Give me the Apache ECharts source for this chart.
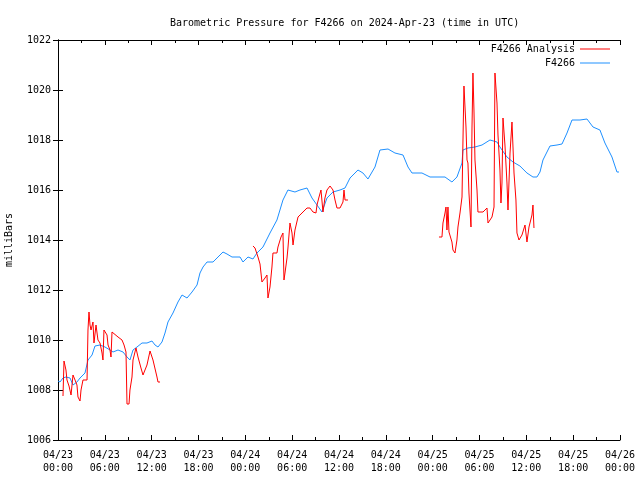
<!DOCTYPE html>
<html>
<head>
<meta charset="utf-8">
<script src="https://cdn.jsdelivr.net/npm/echarts@6/dist/echarts.min.js"></script>
<style>html,body{margin:0;padding:0;background:#fff}#c{width:640px;height:480px}</style>
</head>
<body>
<div id="c"></div>
<script>
// X ticks (hours since 2024-04-23 00:00 UTC)
var tickLabels = ['04/23\n00:00','04/23\n06:00','04/23\n12:00','04/23\n18:00','04/24\n00:00','04/24\n06:00','04/24\n12:00','04/24\n18:00','04/25\n00:00','04/25\n06:00','04/25\n12:00','04/25\n18:00','04/26\n00:00'];

// F4266 observed
var obsHours = [0.00,0.26,0.64,1.02,1.54,1.92,2.43,2.82,3.46,3.84,4.36,4.74,5.38,6.02,6.66,7.05,7.69,8.33,8.84,9.22,9.61,10.12,10.76,11.40,12.04,12.43,12.81,13.32,13.71,14.09,14.73,15.37,15.89,16.53,17.17,17.81,18.19,18.58,19.09,19.86,20.50,21.14,21.65,21.78,22.29,23.32,23.70,24.34,24.98,25.49,26.26,27.16,28.05,28.82,29.46,30.36,31.00,31.90,32.54,33.18,33.82,34.46,35.23,36.13,36.77,37.41,38.05,38.43,39.07,39.71,40.61,41.25,42.28,43.17,44.20,44.84,45.35,46.63,47.66,48.68,49.58,50.47,51.11,51.76,51.88,52.52,53.42,54.32,55.34,56.24,56.62,57.52,58.29,59.18,60.08,60.85,61.36,61.75,62.13,63.03,63.93,64.57,65.21,65.85,66.87,67.77,68.54,69.43,70.07,70.97,71.61,71.87];
var obsValues = [1008.36,1008.32,1008.48,1008.52,1008.48,1008.20,1008.32,1008.48,1008.68,1009.20,1009.40,1009.76,1009.80,1009.72,1009.60,1009.52,1009.60,1009.52,1009.32,1009.20,1009.60,1009.72,1009.88,1009.88,1009.96,1009.80,1009.72,1009.92,1010.28,1010.72,1011.08,1011.52,1011.80,1011.68,1011.92,1012.20,1012.68,1012.92,1013.12,1013.12,1013.32,1013.52,1013.44,1013.52,1013.32,1013.32,1013.12,1013.32,1013.24,1013.48,1013.72,1014.28,1014.80,1015.60,1016.00,1015.92,1016.00,1016.08,1015.68,1015.40,1015.12,1015.68,1015.92,1016.00,1016.08,1016.48,1016.68,1016.80,1016.68,1016.44,1016.92,1017.60,1017.64,1017.48,1017.40,1016.92,1016.68,1016.68,1016.52,1016.52,1016.52,1016.32,1016.52,1017.08,1017.60,1017.68,1017.72,1017.80,1018.00,1017.92,1017.72,1017.32,1017.12,1016.96,1016.68,1016.52,1016.52,1016.72,1017.20,1017.76,1017.80,1017.84,1018.28,1018.80,1018.80,1018.84,1018.52,1018.40,1017.88,1017.32,1016.72,1016.72];

// F4266 Analysis, three runs separated by gaps
var anaHours1 = [0.64,0.77,1.02,1.15,1.41,1.67,1.79,1.92,2.18,2.43,2.56,2.82,2.95,3.20,3.72,3.84,3.97,4.10,4.23,4.48,4.61,4.87,5.12,5.38,5.64,5.76,5.89,6.28,6.41,6.66,6.79,6.92,7.05,7.69,8.20,8.46,8.71,8.84,9.10,9.22,9.48,9.61,9.99,10.25,10.63,10.89,11.40,11.79,12.17,12.68,12.81,13.07];
var anaValues1 = [1007.76,1009.16,1008.80,1008.40,1008.16,1007.80,1007.88,1008.60,1008.40,1008.20,1007.72,1007.56,1008.00,1008.40,1008.40,1010.40,1011.12,1010.60,1010.40,1010.72,1009.88,1010.60,1010.00,1009.88,1009.48,1009.20,1010.40,1010.20,1009.80,1009.60,1009.32,1010.32,1010.32,1010.12,1010.00,1009.80,1009.52,1007.44,1007.44,1008.00,1008.52,1009.20,1009.68,1009.32,1008.88,1008.60,1009.00,1009.56,1009.20,1008.52,1008.32,1008.32];
var anaHours2 = [24.98,25.24,25.62,25.88,26.13,26.52,26.77,26.90,27.16,27.41,27.54,28.05,28.18,28.57,28.82,28.95,29.08,29.34,29.46,29.72,29.98,30.11,30.36,30.75,31.26,31.90,32.28,32.67,33.05,33.18,33.44,33.69,33.95,34.20,34.46,34.85,35.23,35.49,35.74,36.13,36.51,36.64,36.77,37.15];
var anaValues2 = [1013.76,1013.68,1013.32,1013.04,1012.32,1012.48,1012.60,1011.68,1012.12,1012.92,1013.48,1013.48,1013.72,1014.12,1014.28,1012.40,1012.68,1013.28,1013.68,1014.68,1014.28,1013.80,1014.40,1014.92,1015.08,1015.28,1015.28,1015.12,1015.08,1015.40,1015.72,1016.00,1015.12,1015.68,1016.00,1016.16,1016.00,1015.60,1015.28,1015.28,1015.52,1016.00,1015.60,1015.60];
var anaHours3 = [48.81,49.19,49.32,49.58,49.71,49.83,49.96,50.09,50.47,50.60,50.86,51.11,51.24,51.50,51.76,51.88,52.01,52.27,52.40,52.52,52.65,52.91,53.04,53.16,53.29,53.42,53.68,53.80,54.45,54.96,55.09,55.60,55.86,55.98,56.24,56.37,56.62,56.75,56.88,57.01,57.26,57.52,57.65,57.91,58.16,58.29,58.42,58.67,58.80,59.06,59.44,59.83,60.08,60.34,60.72,60.85,60.98];
var anaValues3 = [1014.12,1014.12,1014.68,1015.08,1015.32,1014.40,1015.32,1014.32,1013.92,1013.60,1013.48,1014.00,1014.52,1015.08,1015.72,1017.92,1020.16,1018.52,1017.20,1017.08,1015.88,1014.52,1018.52,1020.68,1019.20,1017.20,1016.00,1015.12,1015.12,1015.28,1014.68,1014.92,1015.32,1020.68,1019.48,1018.20,1016.80,1015.48,1016.28,1018.88,1017.80,1016.28,1015.20,1017.48,1018.72,1017.72,1016.68,1015.60,1014.28,1014.00,1014.20,1014.60,1013.92,1014.52,1015.00,1015.40,1014.48];

function zip(h, v) { return h.map(function (x, i) { return [x, v[i]]; }); }
var anaData = zip(anaHours1, anaValues1).concat([[18, null]], zip(anaHours2, anaValues2), [[42, null]], zip(anaHours3, anaValues3));
var obsData = zip(obsHours, obsValues);

var FONT = 'DejaVu Sans Mono';
var txt = { fontFamily: FONT, fontSize: 10, color: '#000' };
var axLine = { show: true, lineStyle: { color: '#000', width: 1 } };

var chart = echarts.init(document.getElementById('c'), null, { renderer: 'canvas' });
chart.setOption({
  animation: false,
  backgroundColor: '#fff',
  title: {
    text: 'Barometric Pressure for F4266 on 2024-Apr-23 (time in UTC)',
    left: 165, top: 13,
    textStyle: { fontFamily: FONT, fontSize: 10, fontWeight: 'normal', color: '#000' }
  },
  legend: [
    { data: ['F4266 Analysis'], right: 30, top: 44, orient: 'vertical', align: 'right', itemWidth: 30, itemHeight: 1, itemGap: 4, icon: 'rect', padding: 0, textStyle: txt },
    { data: ['F4266'], right: 30, top: 58, orient: 'vertical', align: 'right', itemWidth: 30, itemHeight: 1, itemGap: 4, icon: 'rect', padding: 0, textStyle: txt }
  ],
  grid: { left: 58, right: 20, top: 40, bottom: 40, containLabel: false, outerBoundsMode: 'none' },
  xAxis: [
    {
      type: 'value', min: 0, max: 72, interval: 6, position: 'bottom',
      axisLine: axLine,
      axisTick: { show: true, inside: true, length: 5, lineStyle: { color: '#000' } },
      minorTick: { show: true, splitNumber: 2, length: 3, lineStyle: { color: '#000' } },
      splitLine: { show: false },
      axisLabel: { show: true, margin: 9, lineHeight: 13, fontFamily: FONT, fontSize: 10, color: '#000',
        formatter: function (v) { return tickLabels[Math.round(v / 6)]; } }
    },
    {
      type: 'value', min: 0, max: 72, interval: 6, position: 'top',
      axisLine: axLine,
      axisTick: { show: true, inside: true, length: 5, lineStyle: { color: '#000' } },
      minorTick: { show: true, splitNumber: 2, length: 3, lineStyle: { color: '#000' } },
      splitLine: { show: false }, axisLabel: { show: false }
    }
  ],
  yAxis: [
    {
      type: 'value', min: 1006, max: 1022, interval: 2, position: 'left',
      name: 'milliBars', nameLocation: 'middle', nameRotate: 90, nameGap: 44,
      nameTextStyle: { fontFamily: FONT, fontSize: 10, color: '#000' },
      axisLine: axLine,
      axisTick: { show: true, inside: true, length: 5, lineStyle: { color: '#000' } },
      splitLine: { show: false },
      axisLabel: { margin: 7, fontFamily: FONT, fontSize: 10, color: '#000', formatter: function (v) { return String(v); } }
    },
    {
      type: 'value', min: 1006, max: 1022, interval: 2, position: 'right',
      axisLine: axLine,
      axisTick: { show: true, inside: true, length: 5, lineStyle: { color: '#000' } },
      splitLine: { show: false }, axisLabel: { show: false }
    }
  ],
  series: [
    {
      name: 'F4266 Analysis', type: 'line', data: anaData, showSymbol: false, symbol: 'none',
      connectNulls: false, lineStyle: { color: '#ff0000', width: 1 }, itemStyle: { color: '#ff0000' }, z: 3
    },
    {
      name: 'F4266', type: 'line', data: obsData, showSymbol: false, symbol: 'none',
      lineStyle: { color: '#1e90ff', width: 1 }, itemStyle: { color: '#1e90ff' }, z: 2
    }
  ]
});
</script>
</body>
</html>
